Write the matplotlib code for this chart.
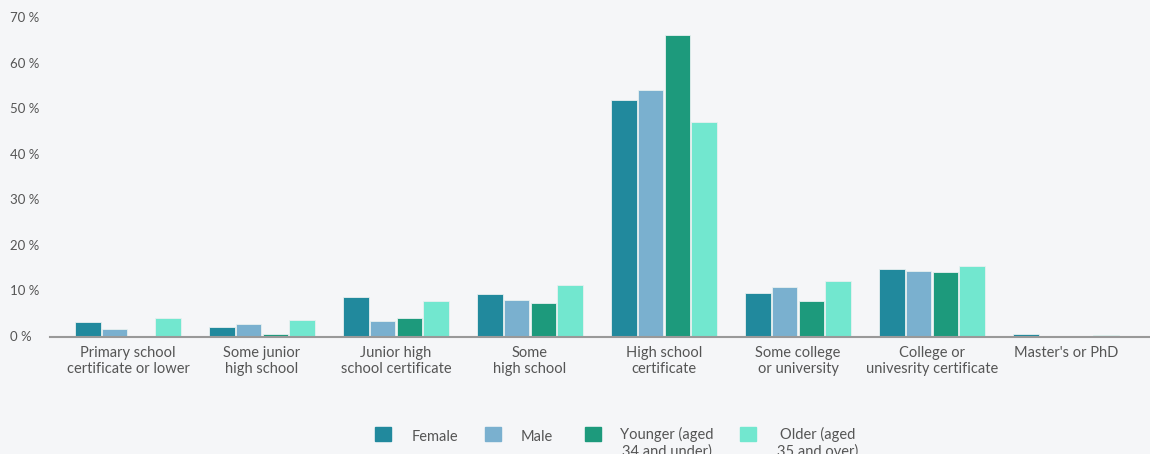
import matplotlib.pyplot as plt
import matplotlib.transforms as mtransforms
from matplotlib.patches import Rectangle
import numpy as np

plt.rcParams['font.family'] = ['Lato', 'DejaVu Sans']

categories = ['Primary school\ncertificate or lower', 'Some junior\nhigh school',
              'Junior high\nschool certificate', 'Some\nhigh school',
              'High school\ncertificate', 'Some college\nor university',
              'College or\nunivesrity certificate', "Master's or PhD"]
female = [3.2, 2.3, 8.8, 9.4, 52.1, 9.7, 14.9, 0.6]
male = [1.8, 2.8, 3.6, 8.1, 54.3, 11.0, 14.5, 0.0]
younger = [0.0, 0.7, 4.1, 7.5, 66.2, 8.0, 14.2, 0.0]
older = [4.2, 3.8, 7.9, 11.4, 47.1, 12.3, 15.6, 0.4]
series_names = ['Female', 'Male', 'Younger (aged\n34 and under)', 'Older (aged\n35 and over)']
colors = ['#21899d', '#7ab0cf', '#1d9a7c', '#72e7cf']
yticks = [0, 10, 20, 30, 40, 50, 60, 70]

bg = '#f5f6f8'
text_color = '#555555'

fig = plt.figure(figsize=(11.5, 4.54), dpi=100, facecolor=bg)
ax = fig.add_axes([50 / 1150, 1 - 337 / 454, 1 - 50 / 1150, (337 - 18) / 454])
ax.set_facecolor(bg)

x = np.arange(len(categories))
slot = 0.2
for i, (vals, c) in enumerate(zip([female, male, younger, older], colors)):
    ax.bar(x + (i - 1.5) * slot, vals, width=slot * 0.96, color=c,
           edgecolor='#e8f0f0', linewidth=0.6, zorder=2)

ax.set_xlim(-0.582, 7.627)
ax.set_ylim(0, 70)
for s in ['top', 'right', 'left']:
    ax.spines[s].set_visible(False)
ax.spines['bottom'].set_color('#999999')
ax.spines['bottom'].set_linewidth(1.5)
ax.spines['bottom'].set_zorder(3)

ax.set_xticks(x)
ax.set_xticklabels(categories, fontsize=10.5, color=text_color, linespacing=1.2)
ax.tick_params(axis='x', length=0, pad=6.5)
ax.set_yticks([])

# y labels left aligned near figure edge
trans = mtransforms.blended_transform_factory(fig.transFigure, ax.transData)
for t in yticks:
    ax.text(10 / 1150, t, f'{t} %', transform=trans, ha='left', va='center',
            fontsize=9.5, color=text_color)

# legend at the bottom
sq_x = [375, 485, 585, 740]
txt_x = [412, 521, 620, 777]
for name, c, sx, tx in zip(series_names, colors, sq_x, txt_x):
    fig.patches.append(Rectangle((sx / 1150, 1 - 441 / 454), 16 / 1150, 14 / 454,
                                 transform=fig.transFigure, color=c, figure=fig))
    top = 427 if '\n' in name else 430
    fig.text(tx / 1150, 1 - top / 454, name, ha='left', va='top', multialignment='center',
             fontsize=10.5, color=text_color, linespacing=1.2)

plt.savefig('out.png', dpi=100, facecolor=bg)
